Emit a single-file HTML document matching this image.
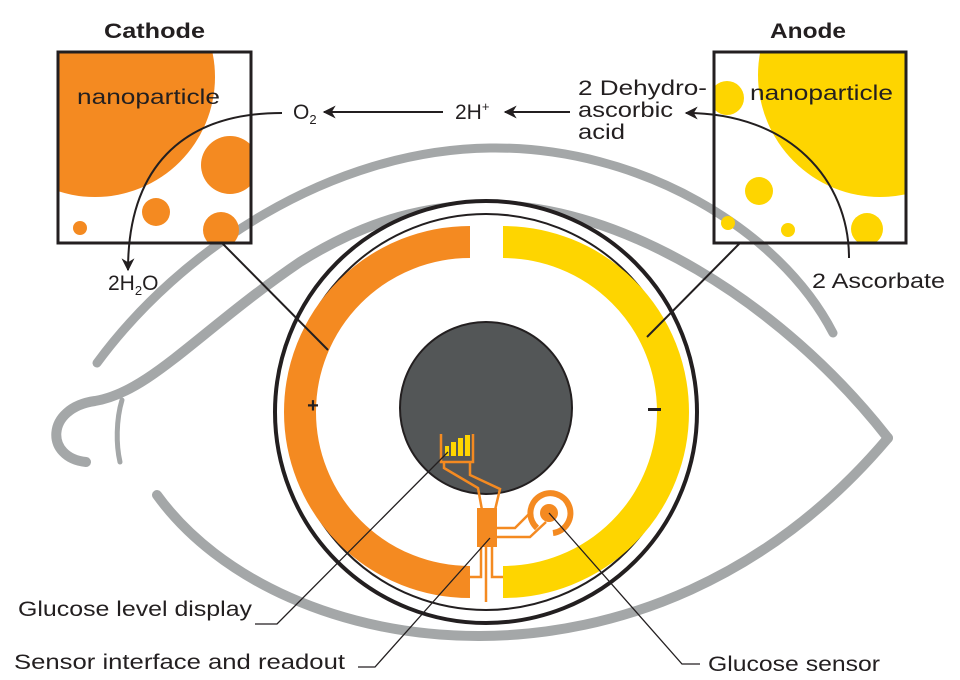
<!DOCTYPE html>
<html><head><meta charset="utf-8"><style>
html,body{margin:0;padding:0;background:#fff;}
svg{display:block;}
text{font-family:"Liberation Sans",sans-serif;fill:#231f20;}
</style></head><body>
<svg width="960" height="680" viewBox="0 0 960 680" xmlns="http://www.w3.org/2000/svg">
<defs>
<clipPath id="cb"><rect x="58" y="52" width="193" height="191"/></clipPath>
<clipPath id="ab"><rect x="714" y="52" width="192" height="191"/></clipPath>
<marker id="ah" viewBox="0 0 10 10" refX="9" refY="5" markerWidth="13" markerHeight="13" orient="auto" markerUnits="userSpaceOnUse"><path d="M0,0 L10,5 L0,10 L3,5 Z" fill="#231f20"/></marker>
</defs>
<!-- eye -->
<g fill="none" stroke="#a4a7a8" stroke-linecap="round">
<path d="M97,363 C180,250 330,150 490,148 C640,146 780,230 833,333" stroke-width="9"/>
<path d="M86,462 C45,458 45,408 95,401 C150,392 200,330 300,262 C370,218 430,205 490,205 C620,205 780,300 888,438" stroke-width="10"/>
<path d="M157,495 C280,665 650,720 888,438" stroke-width="10"/>
<path d="M122,400 C116,420 116,445 120,462" stroke-width="5"/>
</g>
<!-- lens -->
<circle cx="486" cy="412" r="211" fill="#fff" stroke="#231f20" stroke-width="4"/>
<circle cx="486" cy="412" r="198" fill="none" stroke="#231f20" stroke-width="2"/>
<path d="M470,242 A170,170 0 0,0 470,582" fill="none" stroke="#f48a21" stroke-width="32"/>
<path d="M503,242 A170,170 0 0,1 503,582" fill="none" stroke="#fed500" stroke-width="32"/>
<circle cx="486" cy="408" r="86" fill="#535657" stroke="#231f20" stroke-width="2"/>
<text x="313" y="412" font-size="20" font-weight="bold" text-anchor="middle">+</text>
<rect x="648" y="408" width="13" height="3" fill="#231f20"/>
<!-- circuit -->
<g fill="none" stroke="#f48a21" stroke-width="2.5">
<path d="M441,434 V462 H473 V434"/>
<path d="M444,462 V468 L478,488 L482,510"/>
<path d="M470,462 V475 L500,489 L495,510"/>
<path d="M497,528 H515 L530,513"/>
<path d="M497,537 H530 L546,522"/>
<path d="M486,547 V602"/>
<path d="M481,547 V577 H470"/>
<path d="M492,547 V577 H503"/>
<path d="M537,528 A20,20 0 1,1 553,533" stroke-width="6"/>
</g>
<circle cx="549" cy="513" r="9" fill="#f48a21"/>
<rect x="477" y="508" width="20" height="39" fill="#f48a21"/>
<g fill="#fed500">
<rect x="445" y="446" width="4" height="10"/><rect x="451" y="442" width="5" height="14"/>
<rect x="458" y="438" width="5" height="18"/><rect x="465" y="435" width="5" height="21"/>
</g>
<!-- cathode box -->
<g clip-path="url(#cb)">
<circle cx="95" cy="77" r="120" fill="#f48a21"/>
<circle cx="230" cy="165" r="29" fill="#f48a21"/>
<circle cx="156" cy="212" r="14" fill="#f48a21"/>
<circle cx="80" cy="228" r="7" fill="#f48a21"/>
<circle cx="221" cy="230" r="18" fill="#f48a21"/>
</g>
<rect x="58" y="52" width="193" height="191" fill="none" stroke="#231f20" stroke-width="3"/>
<text x="77" y="104" font-size="21" textLength="143" lengthAdjust="spacingAndGlyphs">nanoparticle</text>
<text x="104" y="38" font-size="21" font-weight="bold" textLength="101" lengthAdjust="spacingAndGlyphs">Cathode</text>
<!-- anode box -->
<g clip-path="url(#ab)">
<circle cx="880" cy="75" r="122" fill="#fed500"/>
<circle cx="727" cy="98" r="17" fill="#fed500"/>
<circle cx="759" cy="191" r="14" fill="#fed500"/>
<circle cx="728" cy="223" r="7" fill="#fed500"/>
<circle cx="788" cy="230" r="7" fill="#fed500"/>
<circle cx="867" cy="229" r="16" fill="#fed500"/>
</g>
<rect x="714" y="52" width="192" height="191" fill="none" stroke="#231f20" stroke-width="3"/>
<text x="750" y="100" font-size="21" textLength="143" lengthAdjust="spacingAndGlyphs">nanoparticle</text>
<text x="770" y="38" font-size="21" font-weight="bold" textLength="76" lengthAdjust="spacingAndGlyphs">Anode</text>
<!-- reaction arrows -->
<g fill="none" stroke="#231f20" stroke-width="2">
<path d="M443,112 H324" marker-end="url(#ah)"/>
<path d="M570,112 H505" marker-end="url(#ah)"/>
<path d="M282,113 C180,113 128,170 128,270" marker-end="url(#ah)"/>
<path d="M849,258 C849,180 790,113 686,113" marker-end="url(#ah)"/>
<path d="M222,243 L328,350"/>
<path d="M740,243 L647,337"/>
</g>
<g fill="none" stroke="#231f20" stroke-width="1.3">
<path d="M255,624 H277 L448,452"/>
<path d="M358,667 H375 L490,538"/>
<path d="M549,513 L682,664 H700"/>
</g>
<text x="293" y="119" font-size="21">O<tspan font-size="13" dy="5">2</tspan></text>
<text x="455" y="119" font-size="21">2H<tspan font-size="13" dy="-8">+</tspan></text>
<text x="578" y="95" font-size="21" textLength="129" lengthAdjust="spacingAndGlyphs">2 Dehydro-</text>
<text x="578" y="117" font-size="21" textLength="95" lengthAdjust="spacingAndGlyphs">ascorbic</text>
<text x="578" y="139" font-size="21" textLength="47" lengthAdjust="spacingAndGlyphs">acid</text>
<text x="108" y="290" font-size="21">2H<tspan font-size="13" dy="5">2</tspan><tspan dy="-5">O</tspan></text>
<text x="812" y="288" font-size="21" textLength="133" lengthAdjust="spacingAndGlyphs">2 Ascorbate</text>
<text x="18" y="616" font-size="21" textLength="234" lengthAdjust="spacingAndGlyphs">Glucose level display</text>
<text x="14" y="669" font-size="21" textLength="331" lengthAdjust="spacingAndGlyphs">Sensor interface and readout</text>
<text x="708" y="671" font-size="21" textLength="172" lengthAdjust="spacingAndGlyphs">Glucose sensor</text>
</svg>
</body></html>
